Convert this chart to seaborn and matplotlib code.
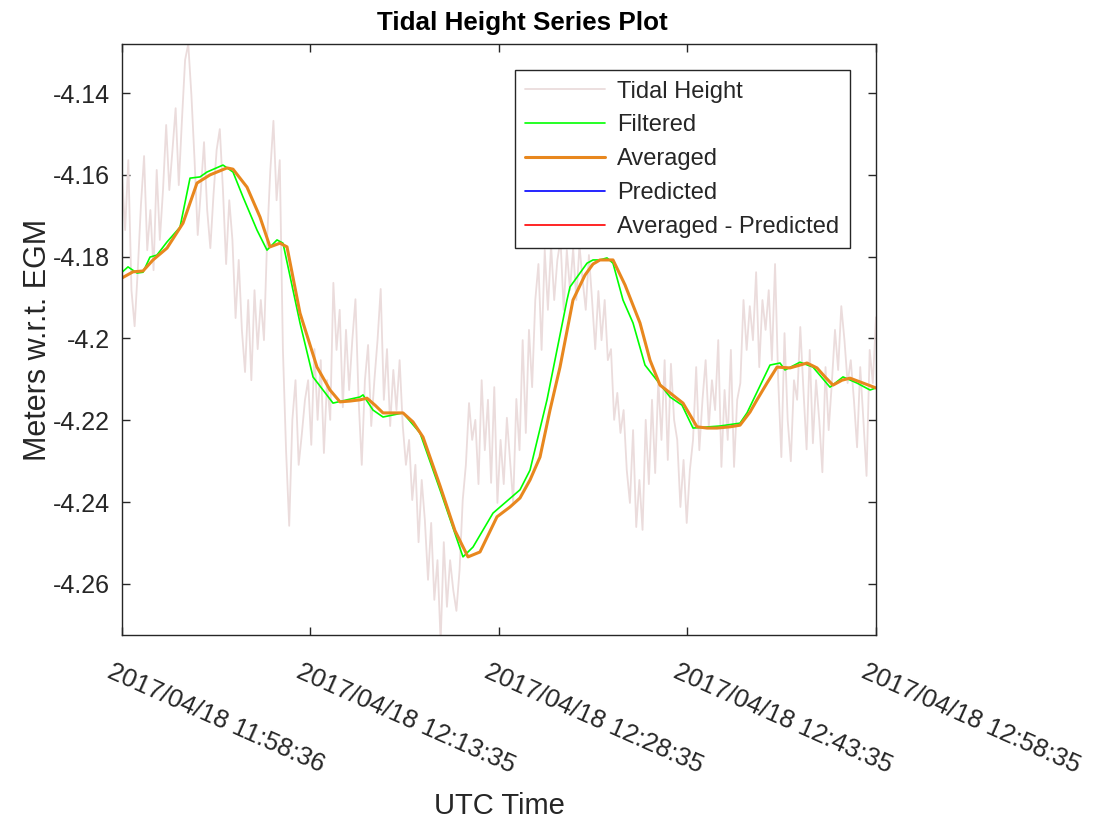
import numpy as np
import matplotlib
matplotlib.use("Agg")
import matplotlib.pyplot as plt
from matplotlib.transforms import ScaledTranslation
import seaborn as sns

# ------------------------------
# Data (time in minutes after 2017/04/18 11:58:36 UTC, heights in meters)
# ------------------------------
raw_t_end = 59.983
tidal_height = [
    -4.1600, -4.1735, -4.1564, -4.1882, -4.1970, -4.1833, -4.1674, -4.1554,
    -4.1784, -4.1686, -4.1833, -4.1588, -4.1759, -4.1637, -4.1478, -4.1637,
    -4.1539, -4.1437, -4.1625, -4.1466, -4.1319, -4.1280, -4.1405, -4.1564,
    -4.1747, -4.1637, -4.1520, -4.1686, -4.1779, -4.1649, -4.1539, -4.1488,
    -4.1637, -4.1818, -4.1662, -4.1759, -4.1950, -4.1808, -4.1979, -4.2082,
    -4.1906, -4.2102, -4.1882, -4.2026, -4.1906, -4.2004, -4.1759, -4.1591,
    -4.1468, -4.1662, -4.1564, -4.2026, -4.2273, -4.2458, -4.2199, -4.2102,
    -4.2309, -4.2234, -4.2150, -4.2102, -4.2260, -4.2026, -4.2199, -4.2053,
    -4.2280, -4.2102, -4.2199, -4.1864, -4.2028, -4.1930, -4.2168, -4.1979,
    -4.2126, -4.2004, -4.1904, -4.2150, -4.2309, -4.2102, -4.2016, -4.2214,
    -4.2102, -4.2004, -4.1879, -4.2150, -4.2026, -4.2214, -4.2077, -4.2175,
    -4.2053, -4.2214, -4.2309, -4.2248, -4.2395, -4.2309, -4.2498, -4.2346,
    -4.2444, -4.2590, -4.2451, -4.2639, -4.2542, -4.2742, -4.2498, -4.2656,
    -4.2542, -4.2615, -4.2666, -4.2566, -4.2395, -4.2309, -4.2158, -4.2248,
    -4.2199, -4.2356, -4.2102, -4.2273, -4.2150, -4.2353, -4.2119, -4.2402,
    -4.2248, -4.2356, -4.2194, -4.2297, -4.2402, -4.2148, -4.2273, -4.2004,
    -4.2231, -4.1979, -4.2119, -4.1906, -4.1818, -4.2028, -4.1784, -4.1930,
    -4.1772, -4.1906, -4.1808, -4.1759, -4.1930, -4.1784, -4.1882, -4.1779,
    -4.1906, -4.1772, -4.1857, -4.1930, -4.1796, -4.1906, -4.2026, -4.1884,
    -4.2004, -4.1906, -4.2053, -4.2026, -4.2199, -4.2133, -4.2231, -4.2175,
    -4.2322, -4.2402, -4.2224, -4.2461, -4.2346, -4.2468, -4.2199, -4.2356,
    -4.2150, -4.2329, -4.2102, -4.2248, -4.2053, -4.2297, -4.2062, -4.2199,
    -4.2248, -4.2412, -4.2297, -4.2451, -4.2322, -4.2248, -4.2070, -4.2273,
    -4.2150, -4.2053, -4.2216, -4.2102, -4.2175, -4.2004, -4.2314, -4.2126,
    -4.2248, -4.2028, -4.2314, -4.2150, -4.2109, -4.1906, -4.2028, -4.1921,
    -4.2004, -4.1838, -4.2070, -4.1906, -4.1979, -4.1882, -4.2053, -4.1818,
    -4.2102, -4.2290, -4.1987, -4.2199, -4.2300, -4.2102, -4.2150, -4.1972,
    -4.2126, -4.2271, -4.2028, -4.2256, -4.2102, -4.2199, -4.2327, -4.2070,
    -4.2224, -4.2109, -4.1979, -4.2077, -4.1921, -4.2004, -4.2109, -4.2053,
    -4.2150, -4.2266, -4.2070, -4.2199, -4.2336, -4.2028, -4.2109, -4.1948,
]
raw_time = np.linspace(0, raw_t_end, len(tidal_height))

filtered_time = [
    0.000, 0.477, 1.193, 1.671, 2.227, 2.784, 3.580, 4.614, 5.410, 6.205,
    6.762, 8.035, 8.830, 9.626, 10.740, 11.535, 12.331, 12.808, 14.160, 15.195,
    16.786, 17.900, 18.934, 19.172, 19.968, 20.763, 22.354, 23.707, 25.298, 27.127,
    27.923, 29.514, 31.662, 32.458, 33.810, 35.401, 35.640, 36.992, 37.469, 38.026,
    38.583, 39.061, 39.856, 40.652, 41.606, 43.595, 44.550, 45.425, 47.573, 49.164,
    49.721, 51.550, 52.346, 52.744, 53.937, 54.971, 56.323, 57.358, 58.472, 59.506,
    59.983,
]
filtered = [
    -4.1838, -4.1825, -4.1840, -4.1838, -4.1801, -4.1796, -4.1764, -4.1728, -4.1608, -4.1605,
    -4.1593, -4.1576, -4.1593, -4.1654, -4.1735, -4.1784, -4.1759, -4.1767, -4.1962, -4.2094,
    -4.2158, -4.2150, -4.2143, -4.2138, -4.2175, -4.2192, -4.2182, -4.2231, -4.2370, -4.2534,
    -4.2510, -4.2427, -4.2370, -4.2322, -4.2150, -4.1906, -4.1874, -4.1816, -4.1808, -4.1808,
    -4.1803, -4.1816, -4.1906, -4.1962, -4.2065, -4.2143, -4.2163, -4.2219, -4.2214, -4.2207,
    -4.2182, -4.2065, -4.2060, -4.2077, -4.2058, -4.2070, -4.2119, -4.2094, -4.2109, -4.2126,
    -4.2121,
]

averaged_time = [
    0.000, 0.875, 1.671, 2.466, 3.580, 4.853, 5.966, 7.001, 8.353, 8.830,
    9.944, 10.978, 11.774, 12.569, 13.126, 14.160, 15.513, 16.547, 17.343, 18.138,
    18.934, 19.490, 20.127, 20.763, 21.559, 22.354, 23.150, 23.945, 25.298, 26.491,
    27.526, 28.480, 29.832, 30.867, 31.662, 32.458, 33.253, 34.049, 34.844, 35.878,
    36.833, 37.469, 38.026, 39.061, 40.015, 41.208, 42.004, 42.800, 43.595, 44.629,
    45.186, 45.743, 46.539, 47.334, 48.368, 49.164, 49.959, 50.516, 51.312, 52.107,
    53.142, 53.937, 54.494, 55.289, 55.926, 56.562, 57.278, 57.914, 58.949, 59.983,
]
averaged = [
    -4.1852, -4.1837, -4.1835, -4.1808, -4.1779, -4.1718, -4.1620, -4.1600, -4.1583, -4.1586,
    -4.1630, -4.1703, -4.1776, -4.1767, -4.1776, -4.1938, -4.2070, -4.2126, -4.2155, -4.2153,
    -4.2150, -4.2146, -4.2163, -4.2182, -4.2182, -4.2182, -4.2204, -4.2241, -4.2360, -4.2470,
    -4.2534, -4.2522, -4.2436, -4.2412, -4.2390, -4.2346, -4.2290, -4.2175, -4.2070, -4.1906,
    -4.1845, -4.1818, -4.1808, -4.1808, -4.1869, -4.1962, -4.2053, -4.2114, -4.2133, -4.2158,
    -4.2187, -4.2216, -4.2219, -4.2219, -4.2216, -4.2212, -4.2180, -4.2150, -4.2109, -4.2070,
    -4.2072, -4.2065, -4.2060, -4.2072, -4.2094, -4.2114, -4.2102, -4.2097, -4.2109, -4.2121,
]

# Predicted series is empty in this window (only shows in the legend)
predicted_time = []
predicted = []
diff_time = []
diff = []

xtick_values = [0, 14.983, 29.983, 44.983, 59.983]
xtick_labels = ["2017/04/18 11:58:36", "2017/04/18 12:13:35", "2017/04/18 12:28:35",
                "2017/04/18 12:43:35", "2017/04/18 12:58:35"]
ytick_values = [-4.14, -4.16, -4.18, -4.20, -4.22, -4.24, -4.26]
ytick_labels = ["-4.14", "-4.16", "-4.18", "-4.2", "-4.22", "-4.24", "-4.26"]

# ------------------------------
# Style
# ------------------------------
sns.set_style("white")
plt.rcParams["font.family"] = ["Liberation Sans", "DejaVu Sans"]
text_col = "#262626"

fig = plt.figure(figsize=(10.95, 8.19), dpi=100)
ax = fig.add_axes([122 / 1095, (819 - 635) / 819, 754 / 1095, 591 / 819])

sns.lineplot(x=raw_time, y=tidal_height, ax=ax, color="#EBDCDC", linewidth=1.3,
             label="Tidal Height", sort=False, estimator=None)
sns.lineplot(x=filtered_time, y=filtered, ax=ax, color="#00FF00", linewidth=1.2,
             label="Filtered", sort=False, estimator=None)
sns.lineplot(x=averaged_time, y=averaged, ax=ax, color="#E8871E", linewidth=2.2,
             label="Averaged", sort=False, estimator=None)
ax.plot(predicted_time, predicted, color="#0000FF", linewidth=1.2, label="Predicted")
ax.plot(diff_time, diff, color="#FF0000", linewidth=1.2, label="Averaged - Predicted")

ax.set_xlim(0, raw_t_end)
ax.set_ylim(-4.2725, -4.128)

ax.set_yticks(ytick_values)
ax.set_yticklabels(ytick_labels)
ax.set_xticks(xtick_values)
ax.set_xticklabels(xtick_labels)

ax.tick_params(direction="in", length=6, width=1, colors=text_col, labelsize=18,
               top=True, right=True, bottom=True, left=True)
ax.tick_params(axis="y", pad=9)
ax.tick_params(axis="x", labelsize=18.5, pad=14)
for lbl in ax.get_xticklabels():
    lbl.set_rotation(-24)
    lbl.set_ha("left")
    lbl.set_va("top")
    lbl.set_rotation_mode("anchor")
    lbl.set_transform(lbl.get_transform() + ScaledTranslation(-0.08, -0.05, fig.dpi_scale_trans))

for sp in ax.spines.values():
    sp.set_color(text_col)
    sp.set_linewidth(1.0)

ax.set_title("Tidal Height Series Plot", fontsize=18.7, fontweight="bold", color="black",
             pad=10, x=0.5305)
ax.set_xlabel("UTC Time", fontsize=21, color=text_col)
ax.set_ylabel("Meters w.r.t. EGM", fontsize=22, color=text_col)
ax.xaxis.set_label_coords(0.5, -0.29)
ax.xaxis.label.set_va("center")
ax.yaxis.set_label_coords(-0.112, 0.5)
ax.yaxis.label.set_va("center")

leg = ax.legend(loc="upper right", bbox_to_anchor=(0.9655, 0.956), borderaxespad=0,
                fontsize=17, frameon=True, fancybox=False, handlelength=3.4,
                handletextpad=0.5, labelspacing=0.5, borderpad=0.45)
leg.get_frame().set_edgecolor(text_col)
leg.get_frame().set_linewidth(1.0)
leg.get_frame().set_alpha(1)
for t in leg.get_texts():
    t.set_color(text_col)

fig.savefig("out.png", dpi=100)
